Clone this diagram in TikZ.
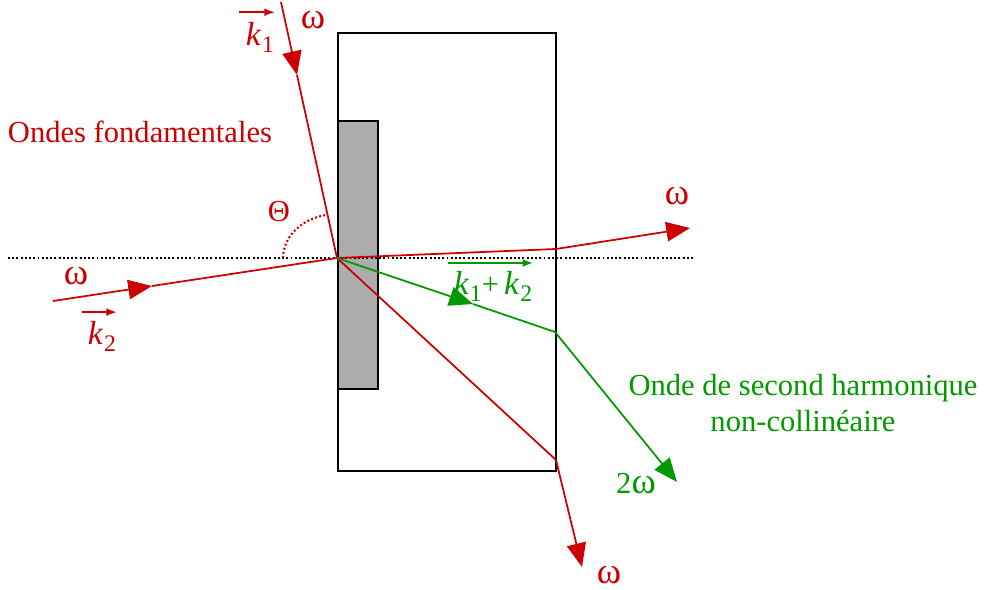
\documentclass[tikz,border=0pt]{standalone}
\usepackage{fontspec}
\setmainfont{Liberation Serif}
\usetikzlibrary{arrows.meta}
\definecolor{wave}{RGB}{204,0,0}
\definecolor{harm}{RGB}{0,153,0}
\newcommand{\kk}[1]{{\fontsize{19}{21}\selectfont\textit{k}}\kern0.5pt\raisebox{-0.5ex}{\fontsize{13.5}{14}\selectfont #1}}

\begin{document}
\begin{tikzpicture}[x=0.02cm,y=-0.02cm,font=\fontsize{17.4}{21}\selectfont,line width=1pt,
  tip/.style={-{Triangle[length=13.5pt,width=11pt]}},
  freq/.style={font=\fontsize{21}{24}\selectfont},
  kvec/.style={inner sep=0pt},
  vecarrow/.style={line width=1pt,-{Latex[length=6pt,width=4.5pt]}}]
\useasboundingbox (0,0) rectangle (984,590);
% cristal
\draw[line width=1.1pt] (338,33) rectangle (556,471);
\draw[fill=gray!65,line width=1.1pt] (338,121) rectangle (378,389);
\draw[dash pattern=on 1.1pt off 1.3pt,line width=1.2pt] (8,258) -- (695,258);
% points on the rays
\coordinate (P) at (337,258);
\coordinate (k1s) at (281,2);
\coordinate (k1m) at (297,75);
\coordinate (k2s) at (53,301);
\coordinate (k2m) at (152,286);
\coordinate (outA) at (556,249);
\coordinate (outAe) at (690,228);
\coordinate (outB) at (556,460);
\coordinate (outBe) at (582,567);
\coordinate (shgm) at (473,304);
\coordinate (shgA) at (555,332);
\coordinate (shge) at (677,482);
% fundamental waves
\draw[wave,tip] (k1s) -- (k1m);
\draw[wave] (k1m) -- (P);
\draw[wave,tip] (k2s) -- (k2m);
\draw[wave] (k2m) -- (P);
\draw[wave] (P) -- (outA);
\draw[wave,tip] (outA) -- (outAe);
\draw[wave] (P) -- (outB);
\draw[wave,tip] (outB) -- (outBe);
% second harmonic
\draw[harm,tip] (P) -- (shgm);
\draw[harm] (shgm) -- (shgA);
\draw[harm,tip] (shgA) -- (shge);
% angle
\draw[wave,dash pattern=on 1.1pt off 1.3pt,line width=1.2pt] (283,258) arc[start angle=180,end angle=101.6,x radius=1.08cm,y radius=0.88cm];
% labels
\node[kvec,text=wave] (vk1) at (260,37) {\kk{1}};
\draw[wave,vecarrow] ([xshift=-3.5pt,yshift=5pt]vk1.north west) -- ([yshift=5pt]vk1.north east);
\node[freq,text=wave] (om1) at (313,20) {ω};
\node[text=wave] (fond) at (140,132) {Ondes fondamentales};
\node[text=wave] (theta) at (279,212) {Θ};
\node[freq,text=wave] (om2) at (76,276) {ω};
\node[kvec,text=wave] (vk2) at (102,336) {\kk{2}};
\draw[wave,vecarrow] ([xshift=-3pt,yshift=4.5pt]vk2.north west) -- ([yshift=4.5pt]vk2.north east);
\node[freq,text=wave] (om3) at (677,196) {ω};
\node[kvec,text=harm] (vsum) at (493,286) {\kk{1}+\,\kk{2}};
\draw[harm,vecarrow] ([xshift=-3pt,yshift=4pt]vsum.north west) -- ([yshift=4pt]vsum.north east);
\node[text=harm,align=center] (shg) at (803,403) {Onde de second harmonique\\non-collinéaire};
\node[text=harm] (om2w) at (636,484) {2\fontsize{21}{24}\selectfont ω};
\node[freq,text=wave] (om4) at (609,575) {ω};
\end{tikzpicture}
\end{document}
